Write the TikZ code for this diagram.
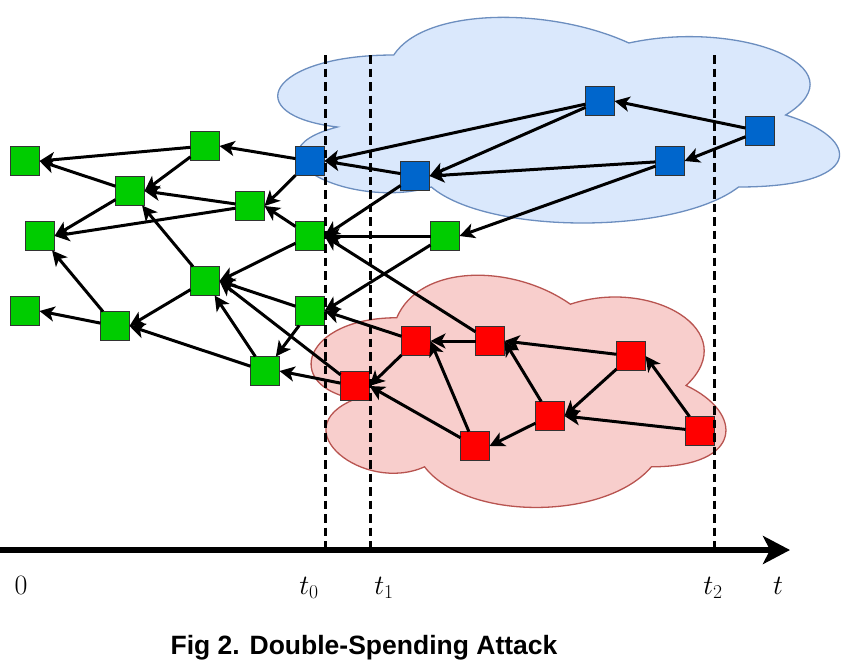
\RequirePackage{fix-cm}
\documentclass[tikz,border=0pt]{standalone}
\usepackage{fontspec}
\newfontfamily\capfont{Liberation Sans}
\usetikzlibrary{arrows.meta}
\definecolor{gfill}{HTML}{00CC00}
\definecolor{bfill}{HTML}{0066CC}
\definecolor{rfill}{HTML}{FF0000}
\definecolor{bcloudfill}{HTML}{DAE8FC}
\definecolor{bcloudline}{HTML}{6C8EBF}
\definecolor{rcloudfill}{HTML}{F8CECC}
\definecolor{rcloudline}{HTML}{B85450}
\tikzset{
  blk/.style={draw=black!80, line width=1.3pt, minimum size=29pt, inner sep=0pt, outer sep=0pt},
  gblk/.style={blk, fill=gfill},
  bblk/.style={blk, fill=bfill},
  rblk/.style={blk, fill=rfill},
  link/.style={-{Stealth[length=15pt, width=15pt, inset=4pt]}, line width=3pt},
  tline/.style={dash pattern=on 8.5pt off 5pt, line width=3pt},
  axisline/.style={-{Stealth[length=27pt, width=28pt, inset=7pt]}, line width=5.5pt},
  tlabel/.style={anchor=base, inner sep=0pt, font=\fontsize{28}{34}\selectfont},
  cloudshape/.pic={
    \path[pic actions] (0.25,0.25) .. controls (0.05,0.25) and (0,0.5) .. (0.16,0.55)
      .. controls (0,0.66) and (0.18,0.9) .. (0.31,0.8)
      .. controls (0.4,1) and (0.7,1) .. (0.8,0.8)
      .. controls (1,0.8) and (1,0.6) .. (0.875,0.5)
      .. controls (1,0.3) and (0.8,0.1) .. (0.625,0.2)
      .. controls (0.5,0.05) and (0.3,0.05) .. (0.25,0.25) -- cycle;
  }
}
\begin{document}
\begin{tikzpicture}[x=1pt, y=-1pt]
\path[use as bounding box] (0,0) rectangle (854,667);

% clouds
\pic[fill=bcloudfill, draw=bcloudline, line width=1.3pt, shift={(237,-5)}, xscale=627, yscale=240] {cloudshape};
\pic[fill=rcloudfill, draw=rcloudline, line width=1.3pt, shift={(281,250)}, xscale=463, yscale=271] {cloudshape};

% green blocks
\node[gblk] (G1) at (25,161) {};
\node[gblk] (G2) at (40,236) {};
\node[gblk] (G3) at (25,311) {};
\node[gblk] (G4) at (130,191) {};
\node[gblk] (G5) at (205,146) {};
\node[gblk] (G6) at (250,206) {};
\node[gblk] (G7) at (115,326) {};
\node[gblk] (G8) at (205,281) {};
\node[gblk] (G9) at (265,371) {};
\node[gblk] (G10) at (310,236) {};
\node[gblk] (G11) at (310,311) {};
\node[gblk] (G12) at (445,236) {};
% blue blocks
\node[bblk] (B1) at (310,161) {};
\node[bblk] (B2) at (415,176) {};
\node[bblk] (B3) at (600,101) {};
\node[bblk] (B4) at (670,161) {};
\node[bblk] (B5) at (760,131) {};
% red blocks
\node[rblk] (R1) at (355,386) {};
\node[rblk] (R2) at (416,341) {};
\node[rblk] (R3) at (490,341) {};
\node[rblk] (R4) at (631,356) {};
\node[rblk] (R5) at (550,416) {};
\node[rblk] (R6) at (475,446) {};
\node[rblk] (R7) at (700,431) {};

% links (child -> parent)
\draw[link] (G5) -- (G1.east);
\draw[link] (G4) -- (G1.east);
\draw[link] (G5) -- (G4.east);
\draw[link] (G6) -- (G4.east);
\draw[link] (G8) -- (G4);
\draw[link] (G4) -- (G2.east);
\draw[link] (G6) -- (G2.east);
\draw[link] (G7) -- (G2);
\draw[link] (G7) -- (G3.east);
\draw[link] (G8) -- (G7.east);
\draw[link] (G9) -- (G7.east);
\draw[link] (G9) -- (G8);
\draw[link] (G10) -- (G8.east);
\draw[link] (G11) -- (G8.east);
\draw[link] (R1) -- (G8.east);
\draw[link] (G10) -- (G6.east);
\draw[link] (B1) -- (G6.east);
\draw[link] (B1) -- (G5.east);
\draw[link] (G11) -- (G9);
\draw[link] (R1) -- (G9.east);
\draw[link] (B2) -- (G10.east);
\draw[link] (G12) -- (G10.east);
\draw[link] (R3) -- (G10.east);
\draw[link] (G12) -- (G11.east);
\draw[link] (R2) -- (G11.east);
\draw[link] (B3) -- (B1.east);
\draw[link] (B2) -- (B1.east);
\draw[link] (B3) -- (B2.east);
\draw[link] (B4) -- (B2.east);
\draw[link] (B5) -- (B3.east);
\draw[link] (B5) -- (B4.east);
\draw[link] (B4) -- (G12.east);
\draw[link] (R2) -- (R1.east);
\draw[link] (R6) -- (R1.east);
\draw[link] (R3) -- (R2.east);
\draw[link] (R6) -- (R2.east);
\draw[link] (R4) -- (R3.east);
\draw[link] (R5) -- (R3.east);
\draw[link] (R4) -- (R5.east);
\draw[link] (R7) -- (R5.east);
\draw[link] (R5) -- (R6.east);
\draw[link] (R7) -- (R4.east);

% time markers
\coordinate (d0a) at (325,55);  \coordinate (d0b) at (325,550);
\coordinate (d1a) at (370,55);  \coordinate (d1b) at (370,550);
\coordinate (d2a) at (714,55);  \coordinate (d2b) at (714,550);
\draw[tline] (d0a) -- (d0b);
\draw[tline] (d1a) -- (d1b);
\draw[tline] (d2a) -- (d2b);

% time axis
\coordinate (ax0) at (0,550);
\coordinate (ax1) at (790,550);
\draw[axisline] (ax0) -- (ax1);

\node[tlabel] (l0) at (21,594) {$0$};
\node[tlabel] (lt0) at (309,594) {$t_0$};
\node[tlabel] (lt1) at (384,594) {$t_1$};
\node[tlabel] (lt2) at (713,594) {$t_2$};
\node[tlabel] (lt) at (778,594) {$t$};

\node[anchor=base, inner sep=0pt, font=\capfont\bfseries\fontsize{26.5}{32}\selectfont] (cap) at (364,654) {Fig 2. Double-Spending Attack};
\end{tikzpicture}
\end{document}
